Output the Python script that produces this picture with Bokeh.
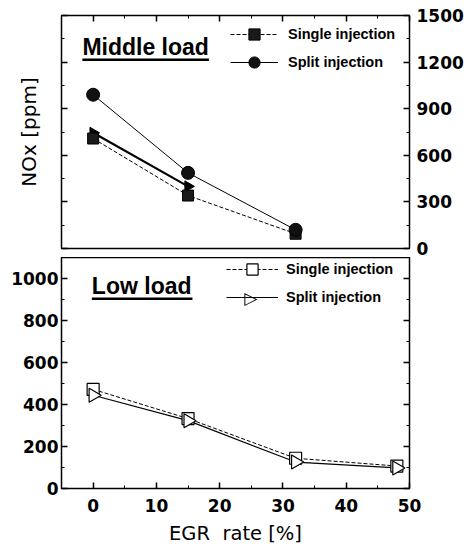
import numpy as np
from bokeh.plotting import figure
from bokeh.models import (LinearAxis, Range1d, FixedTicker, Legend, LegendItem,
                          Label, BoxAnnotation, ColumnDataSource)
from bokeh.layouts import column
from bokeh.embed import file_html
from bokeh.resources import INLINE

# ---- data ----
egr_mid = [0, 15, 32]
mid_single = [708, 341, 95]
mid_split = [990, 487, 120]
egr_mid_extra = [0, 15]
mid_extra = [745, 400]

egr_low = [0, 15, 32, 48]
low_single = [472, 333, 144, 107]
low_split = [444, 323, 126, 98]

x_ticks = [0, 10, 20, 30, 40, 50]
mid_y_ticks = [0, 300, 600, 900, 1200, 1500]
low_y_ticks = [0, 200, 400, 600, 800, 1000]

TICK_FONT = "DejaVu Sans"
TEXT_FONT = "Liberation Sans"
W = 466


def style_axis(ax, major, minor, labels=True):
    ax.ticker = FixedTicker(ticks=major, minor_ticks=minor)
    ax.axis_line_color = None
    ax.major_tick_in = 6
    ax.major_tick_out = 0
    ax.minor_tick_in = 3
    ax.minor_tick_out = 0
    ax.major_tick_line_color = "black"
    ax.minor_tick_line_color = "black"
    ax.major_tick_line_width = 1.5
    ax.minor_tick_line_width = 1
    if labels:
        ax.major_label_text_font = TICK_FONT
        ax.major_label_text_font_style = "bold"
        ax.major_label_text_font_size = "17px"
        ax.major_label_text_color = "black"
    else:
        ax.major_label_text_font_size = "1px"
        ax.major_label_text_color = None
        ax.major_label_standoff = 0


def base_fig(height, y0, y1, top, bottom):
    p = figure(width=W, height=height, output_backend="svg", toolbar_location=None,
               x_axis_location=None, y_axis_location=None,
               x_range=Range1d(-5, 50), y_range=Range1d(y0, y1),
               min_border_left=61, min_border_right=54,
               min_border_top=top, min_border_bottom=bottom)
    p.xgrid.grid_line_color = None
    p.ygrid.grid_line_color = None
    p.outline_line_color = "black"
    p.outline_line_width = 1.5
    p.background_fill_color = "white"
    p.border_fill_color = "white"
    return p


x_minor = list(range(-5, 51, 5))

# ---- top panel: middle load ----
p1 = base_fig(257, 0, 1500, 15, 9)
ax_l = LinearAxis(axis_label="NOx [ppm]")
style_axis(ax_l, mid_y_ticks, list(range(0, 1501, 150)), labels=False)
ax_l.axis_label_text_font = "DejaVu Sans"
ax_l.axis_label_text_font_style = "normal"
ax_l.axis_label_text_font_size = "20px"
ax_l.axis_label_text_color = "black"
ax_l.axis_label_standoff = 21
p1.add_layout(ax_l, "left")
ax_r = LinearAxis()
style_axis(ax_r, mid_y_ticks, list(range(0, 1501, 150)))
ax_r.major_label_standoff = 7
p1.add_layout(ax_r, "right")
ax_t = LinearAxis()
style_axis(ax_t, x_ticks, x_minor, labels=False)
p1.add_layout(ax_t, "above")

r1l = p1.line(egr_mid, mid_single, line_color="black", line_width=1, line_dash="4 2")
r2l = p1.line(egr_mid, mid_split, line_color="black", line_width=1)
p1.line(egr_mid_extra, mid_extra, line_color="black", line_width=2.2)
p1.scatter(egr_mid_extra, mid_extra, marker="triangle", size=11, angle=-np.pi / 2,
           fill_color="black", line_color="black")
r1m = p1.scatter(egr_mid, mid_single, marker="square", size=11,
                 fill_color="#1a1a1a", line_color="black")
r2m = p1.scatter(egr_mid, mid_split, marker="circle", size=13,
                 fill_color="#111111", line_color="black")

leg1 = Legend(items=[LegendItem(label="Single injection", renderers=[r1l, r1m]),
                     LegendItem(label="Split injection", renderers=[r2l, r2m])],
              location=(169, 172))
leg1.glyph_width = 48
leg1.glyph_height = 28
leg1.label_standoff = 10
leg1.spacing = 0
leg1.padding = 0
leg1.margin = 0
leg1.border_line_color = None
leg1.background_fill_alpha = 0
leg1.label_text_font = TEXT_FONT
leg1.label_text_font_style = "bold"
leg1.label_text_font_size = "14.5px"
leg1.label_text_color = "black"
p1.add_layout(leg1, "center")

p1.add_layout(Label(x=-1.7, y=1294, text="Middle load", text_font=TEXT_FONT,
                    text_font_style="bold", text_font_size="23px",
                    text_baseline="alphabetic", text_color="black"))
p1.add_layout(BoxAnnotation(left=-1.7, right=18.3, bottom=1207, top=1223,
                            fill_color="black", fill_alpha=1, line_color=None))

# ---- bottom panel: low load ----
p2 = base_fig(290, 0, 1100, 0, 57)
ax_b = LinearAxis(axis_label="EGR\u00a0 rate [%]")
style_axis(ax_b, x_ticks, x_minor)
ax_b.major_label_standoff = 10
ax_b.axis_label_text_font = "DejaVu Sans"
ax_b.axis_label_text_font_style = "normal"
ax_b.axis_label_text_font_size = "19.5px"
ax_b.axis_label_text_color = "black"
ax_b.axis_label_standoff = 7
p2.add_layout(ax_b, "below")
ax_l2 = LinearAxis()
style_axis(ax_l2, low_y_ticks, list(range(0, 1101, 100)))
ax_l2.major_label_standoff = 3
p2.add_layout(ax_l2, "left")
ax_r2 = LinearAxis()
style_axis(ax_r2, low_y_ticks, list(range(0, 1101, 100)), labels=False)
p2.add_layout(ax_r2, "right")

src_low = ColumnDataSource(dict(x=egr_low, single=low_single, split=low_split))
s1l = p2.line("x", "single", source=src_low, line_color="black", line_width=1,
              line_dash="4 2")
s2l = p2.line("x", "split", source=src_low, line_color="black", line_width=1.2)
s1m = p2.scatter("x", "single", source=src_low, marker="square", size=12,
                 fill_color="white", line_color="black", line_width=1.2)
s2m = p2.scatter("x", "split", source=src_low, marker="triangle", size=14,
                 angle=-np.pi / 2,
                 fill_color="white", line_color="black", line_width=1.2)

leg2 = Legend(items=[LegendItem(label="Single injection", renderers=[s1l, s1m]),
                     LegendItem(label="Split injection", renderers=[s2l])],
              location=(165, 177))
leg2.glyph_width = 52
leg2.glyph_height = 28
leg2.label_standoff = 8
leg2.spacing = 0
leg2.padding = 0
leg2.margin = 0
leg2.border_line_color = None
leg2.background_fill_alpha = 0
leg2.label_text_font = TEXT_FONT
leg2.label_text_font_style = "bold"
leg2.label_text_font_size = "14.5px"
leg2.label_text_color = "black"
p2.add_layout(leg2, "center")
# right-pointing open triangle symbol for the legend entry
p2.add_layout(Label(x=24.9, y=905, text="\u25b7\ufe0e", text_font="DejaVu Sans",
                    text_font_size="17px", text_align="center",
                    text_baseline="middle", text_color="black",
                    background_fill_color="white"))

p2.add_layout(Label(x=-0.2, y=966, text="Low load", text_font=TEXT_FONT,
                    text_font_style="bold", text_font_size="23px",
                    text_baseline="alphabetic", text_color="black"))
p2.add_layout(BoxAnnotation(left=-0.2, right=15.7, bottom=898, top=910,
                            fill_color="black", fill_alpha=1, line_color=None))

layout = column(p1, p2, spacing=0)
open("out.html", "w").write(file_html(layout, INLINE))
